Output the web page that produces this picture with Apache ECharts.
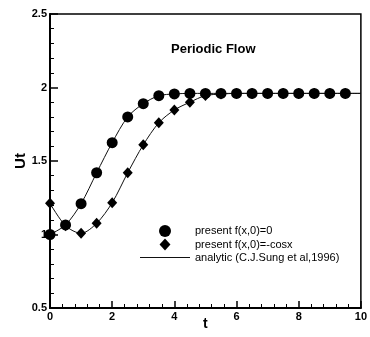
<!DOCTYPE html>
<html>
<head>
<meta charset="utf-8">
<script src="https://cdn.jsdelivr.net/npm/echarts@6/dist/echarts.min.js"></script>
<style>
  html, body { margin: 0; padding: 0; background: #fff; }
  #chart { width: 370px; height: 337px; }
</style>
</head>
<body>
<div id="chart"></div>
<script>
  // time samples
  var tValues = [0, 0.5, 1, 1.5, 2, 2.5, 3, 3.5, 4, 4.5, 5, 5.5, 6, 6.5, 7, 7.5, 8, 8.5, 9, 9.5]
  // present f(x,0)=0
  var circleValues = [1.0, 1.065, 1.21, 1.42, 1.625, 1.80, 1.89, 1.944, 1.956, 1.96,
    1.96, 1.96, 1.96, 1.96, 1.96, 1.96, 1.96, 1.96, 1.96, 1.96]
  // present f(x,0)=-cosx
  var diamondValues = [1.212, 1.06, 1.008, 1.076, 1.216, 1.42, 1.61, 1.76, 1.847, 1.90,
    1.945, 1.955, 1.96, 1.96, 1.96, 1.96, 1.96, 1.96, 1.96, 1.96]
  // analytic curve end point (t = 10)
  var analyticEndT = 10
  var analyticEndValue = 1.96

  var xTicks = [0, 2, 4, 6, 8, 10]
  var yTicks = [0.5, 1, 1.5, 2, 2.5]

  var fontFamily = '"Liberation Sans", Arial, sans-serif'
  var analyticName = 'analytic (C.J.Sung et al,1996)'

  function pairs (xs, ys) {
    var out = []
    for (var i = 0; i < xs.length; i++) {
      out.push([xs[i], ys[i]])
    }
    return out
  }

  function analyticLine (ys) {
    return pairs(tValues.concat([analyticEndT]), ys.concat([analyticEndValue]))
  }

  var chart = echarts.init(document.getElementById('chart'), null, { renderer: 'canvas' })

  chart.setOption({
    backgroundColor: '#fff',
    animation: false,
    title: {
      text: 'Periodic Flow',
      left: 166,
      top: 38,
      textStyle: { fontFamily: fontFamily, fontSize: 13, fontWeight: 'bold', color: '#000' }
    },
    legend: {
      orient: 'vertical',
      left: 135,
      top: 220,
      itemWidth: 50,
      itemHeight: 12,
      itemGap: 1.5,
      symbolKeepAspect: true,
      data: [
        { name: 'present f(x,0)=0', icon: 'circle' },
        { name: 'present f(x,0)=-cosx', icon: 'path://M5,0L10,5.5L5,11L0,5.5Z' },
        { name: analyticName, icon: 'path://M0,0H50V1H0Z' }
      ],
      textStyle: { fontFamily: fontFamily, fontSize: 11, color: '#000' }
    },
    grid: {
      left: 50,
      top: 14,
      width: 319,
      bottom: 29,
      show: true,
      borderColor: '#000',
      borderWidth: 1.5
    },
    xAxis: {
      type: 'value',
      min: xTicks[0],
      max: xTicks[xTicks.length - 1],
      interval: 2,
      name: 't',
      nameLocation: 'middle',
      nameGap: 9,
      nameMoveOverlap: false,
      nameTextStyle: { fontFamily: fontFamily, fontSize: 14, fontWeight: 'bold', color: '#000', verticalAlign: 'top' },
      axisLine: { lineStyle: { color: '#000', width: 2 } },
      axisTick: { inside: true, length: 7, lineStyle: { color: '#000', width: 1.5 } },
      minorTick: { show: true, splitNumber: 5, length: 4, lineStyle: { color: '#000', width: 1 } },
      axisLabel: { margin: 3, fontFamily: fontFamily, fontSize: 11, fontWeight: 'bold', color: '#000' },
      splitLine: { show: false }
    },
    yAxis: {
      type: 'value',
      min: yTicks[0],
      max: yTicks[yTicks.length - 1],
      interval: 0.5,
      name: 'Ut',
      nameLocation: 'middle',
      nameGap: 22,
      nameMoveOverlap: false,
      nameTextStyle: { fontFamily: fontFamily, fontSize: 15, fontWeight: 'bold', color: '#000' },
      axisLine: { lineStyle: { color: '#000', width: 2 } },
      axisTick: { inside: true, length: 8, lineStyle: { color: '#000', width: 1.5 } },
      minorTick: { show: true, splitNumber: 5, length: 4, lineStyle: { color: '#000', width: 1 } },
      axisLabel: { margin: 3, fontFamily: fontFamily, fontSize: 11, fontWeight: 'bold', color: '#000' },
      splitLine: { show: false }
    },
    series: [
      {
        name: analyticName,
        type: 'line',
        smooth: 0.3,
        showSymbol: false,
        symbol: 'none',
        data: analyticLine(circleValues),
        lineStyle: { color: '#111', width: 1 },
        itemStyle: { color: '#111' },
        z: 2
      },
      {
        name: analyticName,
        type: 'line',
        smooth: 0.3,
        showSymbol: false,
        symbol: 'none',
        data: analyticLine(diamondValues),
        lineStyle: { color: '#111', width: 1 },
        itemStyle: { color: '#111' },
        z: 2
      },
      {
        name: 'present f(x,0)=-cosx',
        type: 'scatter',
        symbol: 'diamond',
        symbolSize: [10, 11],
        data: pairs(tValues, diamondValues),
        itemStyle: { color: '#000', opacity: 1 },
        z: 3
      },
      {
        name: 'present f(x,0)=0',
        type: 'scatter',
        symbol: 'circle',
        symbolSize: 11,
        data: pairs(tValues, circleValues),
        itemStyle: { color: '#000', opacity: 1 },
        z: 4
      }
    ]
  })
</script>
</body>
</html>
